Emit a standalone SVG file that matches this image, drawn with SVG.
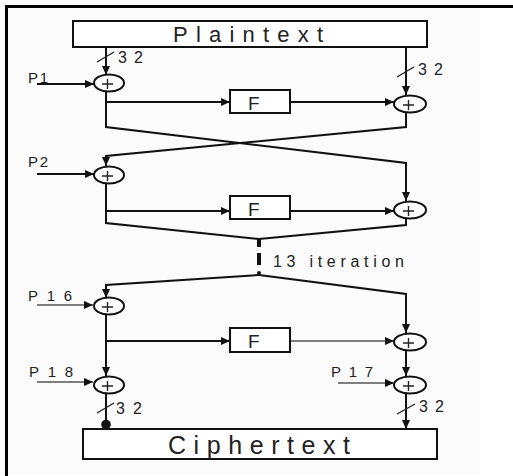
<svg xmlns="http://www.w3.org/2000/svg" width="513" height="476" viewBox="0 0 513 476">
<style>
.ln{fill:none;stroke:#111;stroke-width:2}
.lt{fill:none;stroke:#555;stroke-width:1.6}
.box{fill:#fff;stroke:#111;stroke-width:2}
.xor{fill:#fff;stroke:#111;stroke-width:2}
.pl{fill:none;stroke:#222;stroke-width:1.4}
.t{font-family:"Liberation Sans",Arial,sans-serif;fill:#222}
.lab{font-size:15px}
.f{font-size:19px}
</style>
<defs>
<marker id="ah" markerUnits="userSpaceOnUse" markerWidth="9" markerHeight="8" refX="9" refY="4" orient="auto">
<path d="M0,0 L9,4 L0,8 z" fill="#111"/>
</marker>
</defs>
<rect x="0" y="0" width="480" height="474" fill="#fbfbfb"/>
<path d="M6.5,476 V6.5 H513" fill="none" stroke="#000" stroke-width="3"/>

<g id="connectors">
<path class="ln" d="M106,47 V75" marker-end="url(#ah)"/>
<path class="ln" d="M37,84 H94" marker-end="url(#ah)"/>
<path class="ln" d="M106,92 V127 L406,163 V201" marker-end="url(#ah)"/>
<path class="ln" d="M106,102 H230" marker-end="url(#ah)"/>
<path class="ln" d="M290,102 H394" marker-end="url(#ah)"/>
<path class="ln" d="M406,47 V95" marker-end="url(#ah)"/>
<path class="ln" d="M406,113 V127 L106,156 V166" marker-end="url(#ah)"/>
<path class="ln" d="M37,174 H94" marker-end="url(#ah)"/>
<path class="ln" d="M106,184 V223 L259,239 L406,225 V219"/>
<path class="ln" d="M106,211 H230" marker-end="url(#ah)"/>
<path class="ln" d="M290,211 H394" marker-end="url(#ah)"/>
<path d="M259,238 V247 M259,253 V265" stroke="#111" stroke-width="4" fill="none"/>
<circle cx="259" cy="273" r="2" fill="#111"/>
<path class="ln" d="M259,275 L106,285 V298" marker-end="url(#ah)"/>
<path class="ln" d="M259,275 L406,294 V333" marker-end="url(#ah)"/>
<path class="lt" d="M37,305 H93" marker-end="url(#ah)"/>
<path class="ln" d="M106,315 V376" marker-end="url(#ah)"/>
<path class="ln" d="M106,341 H230" marker-end="url(#ah)"/>
<path class="lt" d="M290,341 H394" marker-end="url(#ah)"/>
<path class="ln" d="M406,351 V376" marker-end="url(#ah)"/>
<path class="lt" d="M338,383 H394" marker-end="url(#ah)"/>
<path class="lt" d="M37,382 H93" marker-end="url(#ah)"/>
<path class="ln" d="M106,394 V422"/>
<circle cx="106" cy="424.5" r="4.8" fill="#111"/>
<path class="ln" d="M406,394 V429" marker-end="url(#ah)"/>
<path class="pl" d="M97,62 L114,52 M397,77 L414,67 M97,413 L114,403 M397,414 L415,404"/>
</g>

<g id="plaintext">
<rect class="box" x="73" y="21" width="354" height="26"/>
<text class="t" x="173" y="42" font-size="22" textLength="150" lengthAdjust="spacing">Plaintext</text>
</g>
<g id="ciphertext">
<rect class="box" x="83" y="429" width="354" height="30"/>
<text class="t" x="168" y="454" font-size="25" textLength="182" lengthAdjust="spacing">Ciphertext</text>
</g>

<g id="f1"><rect class="box" x="230" y="90" width="60" height="23"/><text class="t f" x="248" y="110">F</text></g>
<g id="f2"><rect class="box" x="230" y="196" width="60" height="23"/><text class="t f" x="248" y="216">F</text></g>
<g id="f3"><rect class="box" x="230" y="328" width="60" height="24"/><text class="t f" x="248" y="348" fill="#555">F</text></g>

<g id="xor-p1"><ellipse class="xor" cx="109" cy="83" rx="15" ry="8.5"/><path class="pl" d="M102,84 H113 M107.5,79 V89"/></g>
<g id="xor-p2"><ellipse class="xor" cx="109" cy="175" rx="15" ry="8.5"/><path class="pl" d="M102,176 H113 M107.5,171 V181"/></g>
<g id="xor-p16"><ellipse class="xor" cx="109" cy="306" rx="15" ry="8.5"/><path class="pl" d="M102,307 H113 M107.5,302 V312"/></g>
<g id="xor-p18"><ellipse class="xor" cx="109" cy="385" rx="15" ry="8.5"/><path class="pl" d="M102,386 H113 M107.5,381 V391"/></g>
<g id="xor-r1"><ellipse class="xor" cx="410" cy="104" rx="16" ry="8.5"/><path class="pl" d="M403,105 H414 M408.5,100 V110"/></g>
<g id="xor-r2"><ellipse class="xor" cx="410" cy="210" rx="16" ry="8.5"/><path class="pl" d="M403,211 H414 M408.5,206 V216"/></g>
<g id="xor-r3"><ellipse class="xor" cx="410" cy="342" rx="16" ry="8.5"/><path class="pl" d="M403,343 H414 M408.5,338 V348"/></g>
<g id="xor-p17"><ellipse class="xor" cx="410" cy="385" rx="16" ry="8.5"/><path class="pl" d="M403,386 H414 M408.5,381 V391"/></g>

<g id="labels">
<text class="t" x="118" y="63" font-size="16" textLength="25" lengthAdjust="spacing">32</text>
<text class="t" x="418" y="75" font-size="16" textLength="25" lengthAdjust="spacing">32</text>
<text class="t" x="116" y="414" font-size="16" textLength="26" lengthAdjust="spacing">32</text>
<text class="t" x="419" y="412" font-size="16" textLength="25" lengthAdjust="spacing">32</text>
<text class="t lab" x="28" y="83" textLength="20" lengthAdjust="spacing">P1</text>
<text class="t lab" x="28" y="167" textLength="20" lengthAdjust="spacing">P2</text>
<text class="t lab" x="28" y="301" textLength="44" lengthAdjust="spacing">P16</text>
<text class="t lab" x="29" y="377" textLength="44" lengthAdjust="spacing">P18</text>
<text class="t lab" x="331" y="377" textLength="42" lengthAdjust="spacing">P17</text>
<text class="t" x="273" y="267" font-size="16" textLength="131" lengthAdjust="spacing">13 iteration</text>
</g>
</svg>
